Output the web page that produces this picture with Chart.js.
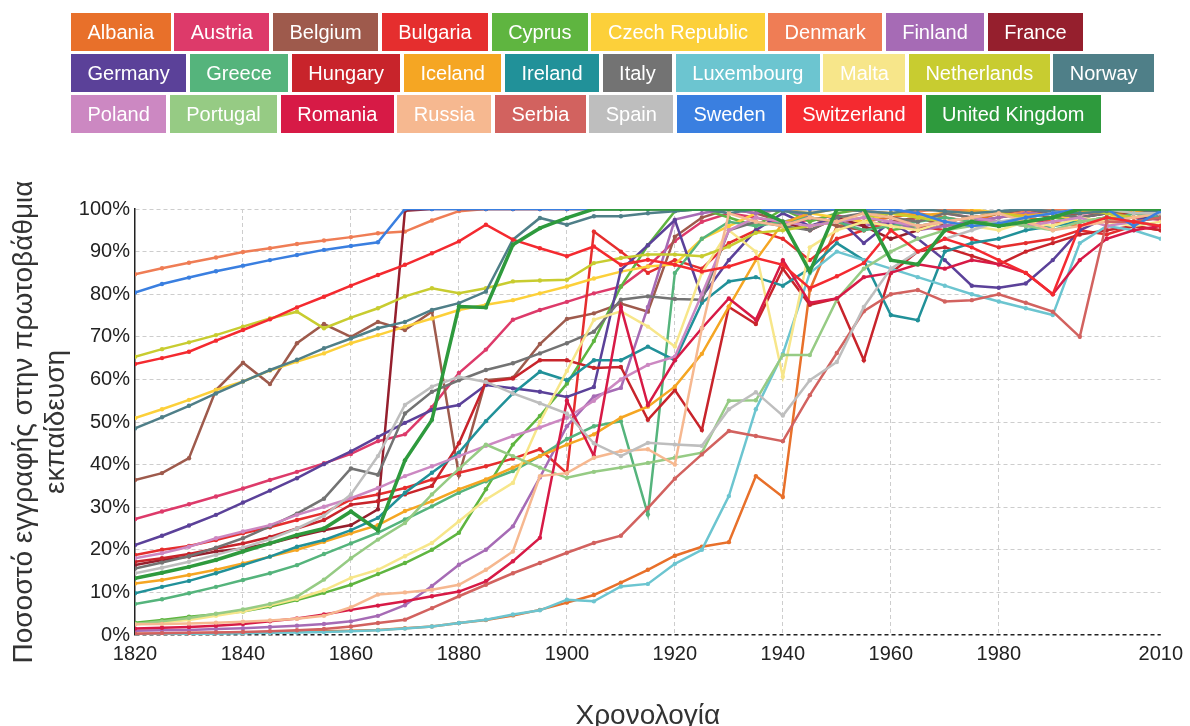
<!DOCTYPE html>
<html><head><meta charset="utf-8">
<script src="https://cdn.jsdelivr.net/npm/chart.js@4"></script>
<style>
html,body{margin:0;padding:0;background:#fff;width:1190px;height:726px;overflow:hidden;font-family:"Liberation Sans",Arial,sans-serif;}
#wrap{position:absolute;left:0;top:0;width:1190px;height:726px;}
#legend{position:absolute;left:71px;top:13px;z-index:2;}
.lrow{display:flex;height:38px;margin-bottom:3px;}
.lbox{height:38px;line-height:38px;padding:0 16.5px;margin-right:3.5px;color:#fff;font-size:20px;white-space:nowrap;}
</style></head><body>
<div id="wrap"><canvas id="c"></canvas></div>
<div id="legend"></div>
<script>
const years = [1820,1825,1830,1835,1840,1845,1850,1855,1860,1865,1870,1875,1880,1885,1890,1895,1900,1905,1910,1915,1920,1925,1930,1935,1940,1945,1950,1955,1960,1965,1970,1975,1980,1985,1990,1995,2000,2005,2010];
const xTickYears = [1820,1840,1860,1880,1900,1920,1940,1960,1980,2010];
const yTickValues = [0,10,20,30,40,50,60,70,80,90,100];

const countries = ['Albania','Austria','Belgium','Bulgaria','Cyprus','Czech Republic','Denmark','Finland','France',
 'Germany','Greece','Hungary','Iceland','Ireland','Italy','Luxembourg','Malta','Netherlands','Norway',
 'Poland','Portugal','Romania','Russia','Serbia','Spain','Sweden','Switzerland','United Kingdom'];
const colors = ['#E8702A','#DD3A6A','#9E5A4C','#E52E2E','#5FB540','#FCD03A','#EF7D55','#A66BB5','#951F2D',
 '#5B4199','#55B47C','#C8242B','#F5A623','#219199','#737373','#6CC5D0','#F7E68A','#C8CC30','#4F7F88',
 '#CC88C2','#96CB84','#D71A46','#F6B890','#D2625F','#BEBEBE','#3A7FE0','#F42A30','#2E9A3D'];
const legendRowStarts = ['Germany','Poland'];

const albania = [0.3,0.3,0.4,0.5,0.6,0.7,0.8,0.9,1.0,1.2,
 1.6,2.0,2.8,3.5,4.6,5.9,7.6,9.4,12.3,15.3,
 18.6,20.7,21.8,37.3,32.4,81,96,97,98,99,
 98,97,99,98,97,96,98,97,96];
const austria = [27.2,29.0,30.7,32.5,34.4,36.4,38.3,40.3,42.5,45.5,
 47.1,53.5,61.5,67.0,74.0,76.3,78.2,80.2,81.8,86.5,
 92.5,97.0,99.0,98.0,96.5,97.5,98.5,97.0,96.0,98.0,
 99.0,98.0,97.0,96.0,98.0,99.0,99.0,98.0,97.5];
const belgium = [36.4,38.0,41.5,57.5,63.9,58.9,68.5,73.0,70.0,73.5,
 71.6,75.9,37.5,59.8,60.4,68.3,74.2,75.5,77.8,75.9,
 93.5,98.0,100,99.0,97.0,98.0,96.0,95.0,97.0,98.0,
 96.0,97.0,98.0,99.0,98.0,99.0,100,99.0,98.0];
const bulgaria = [18.8,20.0,20.9,22.3,23.9,25.3,27.0,28.6,31.8,33.0,
 34.5,36.5,38.1,39.6,41.4,43.6,38.0,94.7,90.0,85.0,
 88.0,86.0,92.0,95.0,93.0,88.0,93.0,95.0,97.0,96.0,
 95.0,93.0,91.0,92.0,93.0,95.0,94.0,96.0,95.0];
const cyprus = [2.9,3.5,4.3,4.9,5.5,6.7,8.2,9.9,11.8,14.3,
 16.9,20.0,24.0,34.2,44.7,51.4,59.0,69.0,81.8,91.5,
 99.5,100,98.0,96.0,100,97.0,99.0,100,95.0,96.0,
 97.0,98.0,96.0,97.0,98.0,97.0,98.0,99.0,98.0];
const czech = [50.9,53.0,55.2,57.5,59.5,62.1,64.2,66.1,68.5,70.4,
 72.4,74.3,76.3,77.5,78.6,80.2,81.8,83.7,85.3,86.5,
 87.0,93.0,96.0,99.0,100,99.0,98.0,97.0,99.0,98.0,
 99.0,100,99.0,98.0,99.0,97.0,98.0,99.0,98.0];
const denmark = [84.7,86.1,87.4,88.6,89.9,90.8,91.8,92.6,93.4,94.3,
 94.7,97.3,99.5,100,100,100,100,100,100,100,
 100,100,100,100,100,100,100,99.5,99.0,99.5,
 100,99.5,99.0,99.5,100,99.5,99.0,99.5,99.0];
const finland = [1.0,1.1,1.2,1.4,1.6,1.9,2.2,2.6,3.2,4.5,
 7.0,11.5,16.5,20.0,25.5,37.0,49.0,56.0,58.0,77.0,
 97.5,99.0,100,99.0,100,98.0,97.0,96.0,97.0,95.0,
 96.0,97.0,98.0,99.0,99.0,98.0,99.0,99.0,98.0];
const france = [16.4,17.6,18.4,19.6,20.3,21.5,23.1,24.6,25.8,29.5,
 99.6,100,100,100,100,100,100,100,100,100,
 100,100,100,100,97.0,95.0,98.0,96.0,93.0,95.0,
 97.0,98.0,99.0,100,99.0,98.0,99.0,99.0,99.0];
const germany = [21.1,23.3,25.7,28.2,31.1,33.9,36.8,40.1,43.1,46.5,
 49.8,52.8,54.0,58.7,57.9,57.1,55.9,58.2,85.7,91.5,
 97.4,79.4,88.0,95.0,99.0,96.0,98.0,92.0,97.0,93.0,
 88.0,82.0,81.5,82.5,88.0,95.0,98.0,97.0,99.0];
const greece = [7.3,8.4,9.8,11.3,12.9,14.5,16.4,19.0,21.5,24.0,
 27.1,30.2,33.4,36.1,38.5,42.0,46.0,49.0,50.2,28.3,
 85.0,93.0,97.0,96.0,97.0,98.0,97.0,95.0,96.0,97.0,
 98.0,97.0,96.0,98.0,99.0,98.0,97.0,99.0,98.0];
const hungary = [17.2,18.0,19.0,20.3,21.5,23.0,25.0,27.0,30.6,31.4,
 33.0,35.0,45.0,59.4,60.2,64.5,64.5,62.7,62.9,50.5,
 57.5,48.1,77.0,73.0,86.0,77.5,79.0,64.5,85.0,90.0,
 91.0,89.0,87.0,90.0,92.0,94.0,95.0,96.0,95.0];
const iceland = [12.1,12.9,14.1,15.3,16.8,18.4,20.0,21.9,23.9,25.8,
 29.1,31.4,34.2,36.5,39.3,42.0,44.7,47.1,51.0,53.6,
 58.3,66.0,77.1,88.0,96.7,99.0,100,99.5,99.0,98.5,
 99.0,99.5,99.0,98.5,99.0,99.5,99.0,99.5,99.0];
const ireland = [9.8,11.3,12.7,14.5,16.4,18.4,20.7,22.3,24.6,27.5,
 33.4,38.1,42.8,50.2,56.7,61.8,59.8,64.5,64.5,67.7,
 64.5,78.0,83.0,84.0,82.0,86.0,92.0,88.0,75.1,73.9,
 90.0,92.0,93.0,95.0,96.0,97.0,98.0,97.0,98.0];
const italy = [15.6,17.0,18.5,20.5,22.7,25.5,28.5,32.0,39.1,37.6,
 52.0,57.1,59.8,62.2,63.8,66.1,68.5,71.2,78.7,79.5,
 78.9,78.7,95.0,97.0,96.0,95.0,98.0,99.0,98.0,97.0,
 99.0,98.0,99.0,100,99.0,98.0,99.0,100,99.0];
const luxembourg = [0.2,0.2,0.3,0.3,0.4,0.5,0.6,0.7,0.9,1.1,
 1.5,2.0,2.8,3.6,4.8,5.8,8.3,7.9,11.4,12.0,
 16.7,20.0,32.6,53.0,66.0,85.0,90.0,88.0,86.0,84.0,
 82.0,80.0,78.3,76.7,75.1,92.0,96.0,95.0,93.0];
const malta = [2.5,3.0,3.5,4.5,5.5,7.0,8.5,10.5,13.4,15.3,
 18.5,21.6,26.7,31.8,35.7,50.0,62.0,74.0,76.0,72.4,
 67.7,85.0,95.0,90.0,60.6,91.0,95.0,97.0,96.0,95.0,
 97.0,96.0,95.0,97.0,96.0,98.0,97.0,96.0,97.0];
const netherlands = [65.3,67.1,68.7,70.4,72.4,74.3,75.9,72.0,74.5,76.7,
 79.5,81.4,80.2,81.4,83.0,83.2,83.4,87.3,88.5,89.3,
 89.3,88.9,91.2,94.4,95.0,96.0,97.0,98.0,99.0,98.0,
 97.0,98.0,99.0,98.0,99.0,100,99.0,98.0,99.0];
const norway = [48.5,51.1,53.8,56.7,59.5,62.2,64.6,67.3,69.6,72.0,
 73.5,76.3,77.9,80.6,92.8,97.9,96.3,98.3,98.3,99.0,
 99.5,100,99.0,100,99.5,99.0,100,99.5,99.0,100,
 99.5,99.0,99.5,100,99.5,99.0,99.5,100,99.5];
const poland = [18.0,19.2,20.7,22.7,24.3,25.8,28.2,30.1,32.1,34.5,
 37.3,39.6,42.0,44.4,46.7,48.7,51.0,55.0,60.0,63.4,
 65.3,80.0,95.0,98.0,97.0,96.0,97.0,98.0,97.0,96.0,
 97.0,98.0,97.0,96.0,97.0,98.0,96.0,97.0,96.0];
const portugal = [2.6,3.2,4.0,5.0,6.0,7.3,9.0,13.0,18.0,22.4,
 26.3,33.0,39.0,44.7,42.0,39.3,36.9,38.3,39.3,40.4,
 41.6,42.8,55.0,55.1,65.7,65.7,78.7,86.0,90.0,93.0,
 95.0,96.0,97.0,96.0,95.0,97.0,98.0,97.0,96.0];
const romania = [1.5,1.7,1.9,2.2,2.6,3.2,3.9,4.8,5.9,6.9,
 7.9,9.1,10.2,12.6,17.3,22.8,55.0,42.0,77.0,54.0,
 64.5,72.0,79.0,74.0,88.0,78.0,79.0,84.0,85.0,87.0,
 86.0,88.0,87.0,85.0,80.0,88.0,93.0,95.0,96.0];
const russia = [2.5,2.6,2.7,2.9,3.1,3.4,3.8,4.5,6.5,9.5,
 10.0,10.6,11.8,15.3,19.6,37.3,38.0,41.6,43.2,43.6,
 40.0,72.0,99.0,97.0,96.0,98.0,97.0,99.0,98.0,96.0,
 97.0,98.0,99.0,97.0,95.0,96.0,97.0,98.0,99.0];
const serbia = [0.3,0.4,0.5,0.6,0.7,0.9,1.1,1.4,2.0,2.8,
 3.6,6.3,9.1,11.8,14.5,16.9,19.3,21.6,23.3,29.8,
 36.7,42.4,47.9,46.7,45.5,56.3,66.2,76.0,80.0,81.0,
 78.3,78.6,80.0,78.0,75.9,70.0,97.0,97.0,98.0];
const spain = [14.5,15.8,17.2,18.8,20.5,22.5,25.0,28.0,33.0,42.0,
 54.0,58.3,60.6,59.4,56.7,54.4,52.0,45.0,42.0,45.1,
 44.7,44.4,53.0,57.0,51.5,59.8,64.1,77.0,86.0,90.0,
 93.0,95.0,97.0,98.0,99.0,100,100,99.0,99.0];
const sweden = [80.4,82.4,83.9,85.4,86.7,88.0,89.2,90.4,91.3,92.2,
 100,100,100,100,100,100,100,100,100,100,
 100,100,100,100,100,100,100,100,100,99.0,
 97.0,96.0,96.6,98.0,99.0,100,100,96.0,99.5];
const switzerland = [63.6,65.0,66.5,69.1,71.6,74.1,76.9,79.4,82.0,84.5,
 86.9,89.6,92.4,96.3,92.8,90.8,88.9,91.2,86.9,88.1,
 86.9,85.3,86.5,88.5,86.9,81.4,84.2,87.3,95.0,90.0,
 93.0,91.0,88.0,85.0,80.0,96.0,98.0,97.0,96.0];
const unitedKingdom = [13.3,14.6,16.0,17.6,19.6,21.5,23.5,25.0,29.0,24.6,
 41.0,50.5,77.1,76.9,91.6,95.5,97.9,100,100,100,
 100,100,100,100,97.0,85.3,100,100,88.0,87.0,
 95.0,97.0,96.0,97.0,98.0,100,100,100,100];

const seriesValues = [albania,austria,belgium,bulgaria,cyprus,czech,denmark,finland,france,
 germany,greece,hungary,iceland,ireland,italy,luxembourg,malta,netherlands,norway,
 poland,portugal,romania,russia,serbia,spain,sweden,switzerland,unitedKingdom];

const FONT = '"Liberation Sans", Arial, sans-serif';
const N = countries.length;

const datasets = countries.map((name, i) => ({
  label: name,
  data: seriesValues[i],
  borderColor: colors[i],
  backgroundColor: colors[i],
  pointBackgroundColor: colors[i],
  borderWidth: name === 'United Kingdom' ? 3.5 : 2.5,
  pointRadius: 2.2,
  pointBorderWidth: 0,
  tension: 0,
  order: N - i
}));

const htmlLegend = {
  id: 'htmlLegend',
  afterUpdate(chart) {
    const box = document.getElementById('legend');
    box.innerHTML = '';
    let row = null;
    chart.data.datasets.forEach((ds) => {
      if (!row || legendRowStarts.includes(ds.label)) {
        row = document.createElement('div');
        row.className = 'lrow';
        box.appendChild(row);
      }
      const item = document.createElement('div');
      item.className = 'lbox';
      item.style.background = ds.borderColor;
      item.textContent = ds.label;
      row.appendChild(item);
    });
  }
};

new Chart(document.getElementById('c'), {
  type: 'line',
  data: { labels: years, datasets },
  plugins: [htmlLegend],
  options: {
    responsive: true,
    maintainAspectRatio: false,
    animation: false,
    events: [],
    layout: { padding: { top: 209, right: 25, bottom: 0, left: 0 } },
    plugins: { legend: { display: false }, tooltip: { enabled: false } },
    scales: {
      x: {
        type: 'linear', min: 1820, max: 2010,
        afterBuildTicks: s => { s.ticks = xTickYears.map(v => ({ value: v })); },
        afterFit: s => { s.height = 91; },
        grid: {
          color: c => (c.tick && (c.tick.value === 1820 || c.tick.value === 2010)) ? 'rgba(0,0,0,0)' : '#cdcdcd',
          lineWidth: 1, drawTicks: false
        },
        border: { display: false, dash: [4, 3] },
        ticks: { color: '#222', font: { size: 20, family: FONT }, padding: 7, maxRotation: 0, autoSkip: false,
                 callback: v => String(v) },
        title: { display: true, text: 'Χρονολογία', color: '#333', font: { size: 28, family: FONT, lineHeight: 1.0 },
                 padding: { top: 0, bottom: -4 } }
      },
      y: {
        min: 0, max: 100,
        afterBuildTicks: s => { s.ticks = yTickValues.map(v => ({ value: v })); },
        afterFit: s => { s.width = 135; },
        grid: {
          color: c => (c.tick && c.tick.value === 0) ? '#222' : '#cdcdcd',
          lineWidth: c => (c.tick && c.tick.value === 0) ? 1.5 : 1,
          drawTicks: false
        },
        border: { display: true, color: '#222', width: 1.5, dash: [4, 3] },
        ticks: { color: '#222', font: { size: 20, family: FONT }, padding: 5, callback: v => v + '%' },
        title: { display: true, text: ['Ποσοστό εγγραφής στην πρωτοβάθμια', 'εκπαίδευση'], color: '#333',
                 font: { size: 28, family: FONT, lineHeight: 1.15 }, padding: { top: 8, bottom: 0 } }
      }
    }
  }
});
</script>
</body></html>
